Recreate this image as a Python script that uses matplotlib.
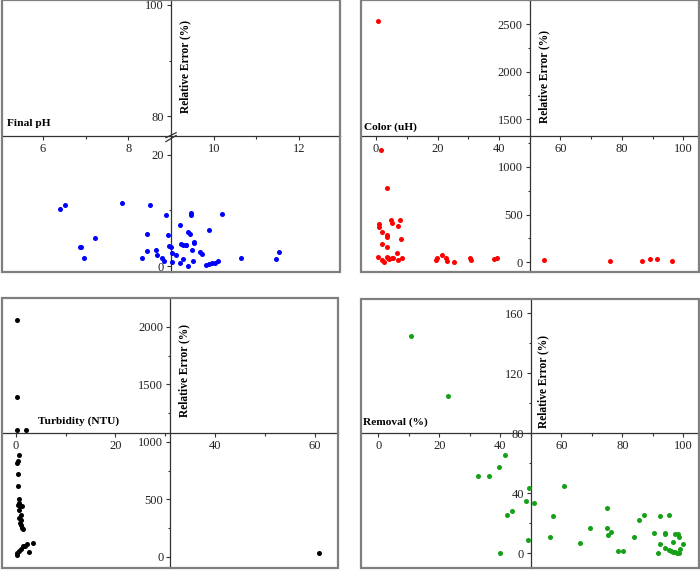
import numpy as np
import matplotlib
matplotlib.use("Agg")
import matplotlib.pyplot as plt
from matplotlib.patches import Rectangle
from matplotlib.ticker import MultipleLocator, FixedLocator

plt.rcParams["font.family"] = ["Liberation Serif", "DejaVu Serif"]

# ---- data ----
ph_x = [6.39, 6.52, 6.87, 6.89, 6.96, 7.23, 7.85, 8.31, 8.44, 8.44, 8.50, 8.66, 8.67,
        8.79, 8.84, 8.88, 8.94, 8.95, 9.00, 9.02, 9.03, 9.12, 9.22, 9.21, 9.23, 9.28,
        9.29, 9.34, 9.34, 9.40, 9.41, 9.45, 9.48, 9.48, 9.49, 9.52, 9.53, 9.55, 9.68,
        9.73, 9.82, 9.88, 9.89, 9.95, 10.03, 10.11, 10.20, 10.63, 11.47, 11.53]
ph_err = [10.3, 11.05, 3.5, 3.4, 1.44, 5.05, 11.35, 1.44, 5.7, 2.76, 10.9, 2.9, 2.0,
          1.5, 0.9, 9.2, 5.5, 3.6, 3.5, 0.7, 2.3, 2.0, 7.45, 0.5, 4.0, 1.26,
          3.8, 3.7, 3.85, 0.0, 6.07, 5.77, 9.5, 9.2, 2.9, 0.9, 4.4, 4.1, 2.6,
          2.16, 0.2, 6.4, 0.36, 0.48, 0.6, 0.96, 9.3, 1.5, 1.3, 2.6]

color_x = [0.54, 1.6, 3.7, 0.9, 0.9, 1.8, 1.8, 3.4, 3.7, 3.7, 4.8, 5.1, 7.8, 7.3, 8.1,
           6.7, 0.76, 1.8, 2.7, 3.5, 4.0, 4.3, 5.1, 5.6, 7.3, 8.4, 19.5, 19.9, 21.4,
           22.8, 23.0, 25.4, 30.6, 31.0, 38.4, 39.3, 54.7, 76.1, 86.4, 89.2, 91.3, 96.2]
color_err = [2531, 1178, 783, 402, 371, 315, 196, 283, 269, 161, 444, 416, 444, 385, 241,
             101, 52, 24, 7, 59, 49, 31, 42, 45, 28, 42, 24, 42, 77,
             45, 17, 0, 42, 24, 38, 49, 21, 17, 17, 38, 31, 17]

turb_x = [0.13, 0.13, 0.27, 1.94, 0.6, 0.33, 0.13, 0.33, 0.33, 0.53, 0.6, 0.47, 0.8,
          1.14, 0.6, 0.94, 0.67, 1.07, 0.8, 0.94, 1.2, 1.47, 3.48, 2.14, 1.8, 1.47,
          2.68, 0.94, 0.6, 0.27, 0.13, 60.8]
turb_err = [2061, 1388, 1107, 1107, 887, 835, 820, 719, 620, 501, 467, 452, 443,
            446, 409, 365, 336, 319, 293, 278, 255, 241, 125, 110, 99, 93,
            46, 67, 55, 38, 17, 32]

rem_x = [10.6, 22.8, 41.6, 39.6, 32.7, 36.1, 49.5, 48.5, 51.1, 61.0, 43.7, 42.2, 57.4,
         49.2, 39.8, 56.4, 66.2, 69.4, 75.1, 74.9, 75.2, 76.3, 78.4, 80.3, 83.8, 85.3,
         87.2, 90.2, 91.7, 92.2, 92.3, 93.8, 93.9, 94.1, 95.2, 95.4, 96.0, 96.6, 96.7,
         97.3, 97.3, 97.8, 98.1, 98.6, 98.7, 98.9, 100.0]
rem_err = [144.9, 104.9, 65.8, 57.6, 51.8, 51.6, 43.8, 34.9, 33.8, 45.1, 28.2, 25.6, 24.7,
           8.9, 0.4, 11.1, 6.9, 16.7, 30.4, 16.7, 12.4, 14.0, 1.8, 1.8, 10.7, 22.0,
           25.6, 13.8, 0.0, 6.4, 24.9, 13.8, 12.9, 3.6, 25.8, 2.2, 1.8, 7.8, 1.1,
           12.7, 0.7, 0.0, 12.7, 10.7, 0.0, 3.1, 6.4]

# broken y axis for the pH panel (24 .. 77 removed)
BRK_LO, BRK_HI = 24.0, 77.0


def fwd(y):
    y = np.asarray(y, dtype=float)
    return np.where(y <= BRK_LO, y, np.where(y >= BRK_HI, y - (BRK_HI - BRK_LO), BRK_LO))


def inv(t):
    t = np.asarray(t, dtype=float)
    return np.where(t <= BRK_LO, t, t + (BRK_HI - BRK_LO))


AX_COL = "#333333"


def style_panel(ax, xlim, ylim, x0, y0, xmaj, xmin, xlabel, xlab_pos, err_pos):
    ax.set_xlim(*xlim)
    ax.set_ylim(*ylim)
    for s in ["top", "right"]:
        ax.spines[s].set_visible(False)
    ax.spines["left"].set_position(("data", x0))
    ax.spines["bottom"].set_position(("data", y0))
    for s in ["left", "bottom"]:
        ax.spines[s].set_color(AX_COL)
        ax.spines[s].set_linewidth(0.9)
    ax.xaxis.set_major_locator(MultipleLocator(xmaj))
    ax.xaxis.set_minor_locator(MultipleLocator(xmin))
    ax.tick_params(which="major", direction="out", length=3, width=0.8,
                   color=AX_COL, labelcolor="#222222", labelsize=9, pad=2)
    ax.tick_params(which="minor", direction="out", length=1.8, width=0.8, color=AX_COL)
    # outer frame
    ax.add_patch(Rectangle((0, 0), 1, 1, transform=ax.transAxes, fill=False,
                           edgecolor="#7f7f7f", linewidth=1.6, clip_on=False, zorder=5))
    ax.text(xlab_pos[0], xlab_pos[1], xlabel, transform=ax.transAxes,
            fontsize=8.2, fontweight="bold", ha="left", va="center")
    ax.text(err_pos[0], err_pos[1], "Relative Error (%)", transform=ax.transAxes,
            fontsize=8.3, fontweight="bold", rotation=90, ha="center", va="center")


fig = plt.figure(figsize=(7, 5.7), dpi=100)
W, H = 700, 570


def add_axes(left, top, right, bottom):
    return fig.add_axes([left / W, 1 - bottom / H, (right - left) / W, (bottom - top) / H])


# Final pH
ax1 = add_axes(2, 0, 340, 272)
ax1.set_yscale("function", functions=(fwd, inv))
ax1.scatter(ph_x, ph_err, s=13, color="blue", linewidths=0, zorder=3)
style_panel(ax1, (5.04, 12.96), (-1.08, 100.9), 9, 23.4, 2, 1, "Final pH",
            (0.015, 0.545), (0.541, 0.757))
ax1.yaxis.set_major_locator(FixedLocator([0, 20, 80, 100]))
ax1.yaxis.set_minor_locator(FixedLocator([10, 90]))
# break marks on the y axis
for yb in [(22.4, 23.5), (23.1, 24.0)]:
    ax1.plot([8.88, 9.12], yb, color=AX_COL, lw=0.9, clip_on=False, zorder=4)

# Color
ax2 = add_axes(361, 0, 699, 272)
ax2.scatter(color_x, color_err, s=13, color="red", linewidths=0, zorder=3)
style_panel(ax2, (-4.9, 105.1), (-102, 2752), 50, 1325, 20, 10, "Color (uH)",
            (0.009, 0.534), (0.541, 0.717))
ax2.yaxis.set_major_locator(MultipleLocator(500))
ax2.yaxis.set_minor_locator(MultipleLocator(250))

# Turbidity
ax3 = add_axes(2, 298, 338, 568)
ax3.scatter(turb_x, turb_err, s=13, color="black", linewidths=0, zorder=3)
style_panel(ax3, (-2.8, 64.7), (-96, 2252), 31, 1076, 20, 10, "Turbidity (NTU)",
            (0.107, 0.544), (0.542, 0.730))
ax3.yaxis.set_major_locator(MultipleLocator(500))
ax3.yaxis.set_minor_locator(MultipleLocator(250))

# Removal
ax4 = add_axes(361, 299, 699, 568)
ax4.scatter(rem_x, rem_err, s=13, color="#16a016", linewidths=0, zorder=3)
style_panel(ax4, (-5.7, 105.1), (-9.8, 169.5), 50, 80, 20, 10, "Removal (%)",
            (0.006, 0.543), (0.538, 0.695))
ax4.yaxis.set_major_locator(MultipleLocator(40))
ax4.yaxis.set_minor_locator(MultipleLocator(20))

fig.savefig("out.png", dpi=100)
